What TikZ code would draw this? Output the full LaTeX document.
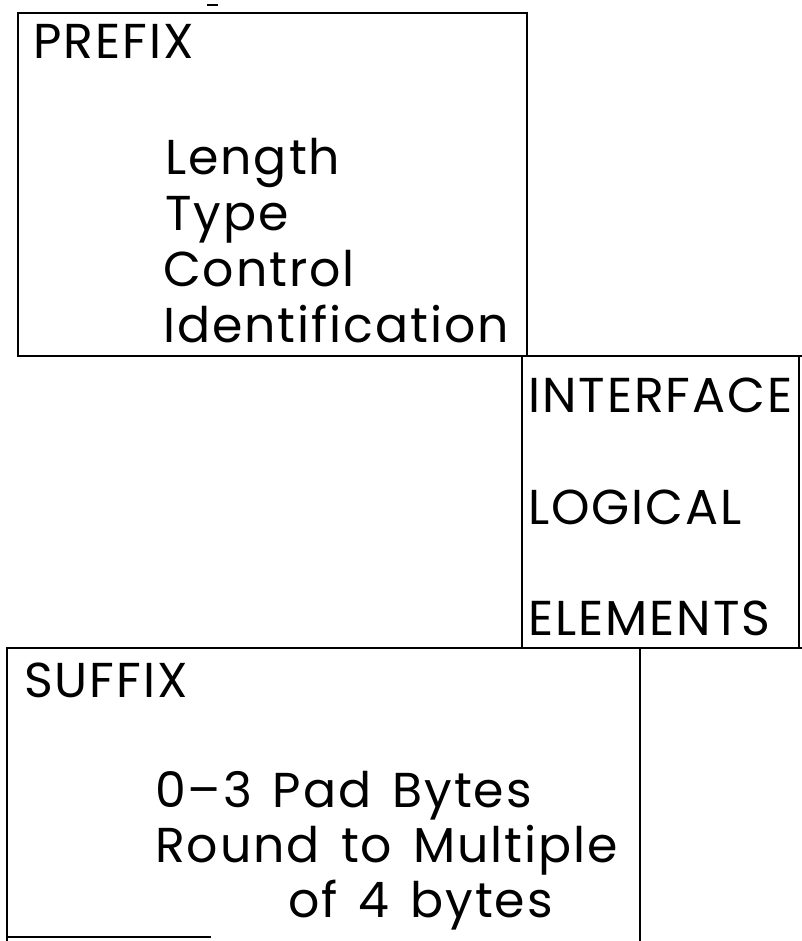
\documentclass[tikz,border=0pt]{standalone}
\usepackage{fontspec}
\setmainfont{Poppins}[LetterSpace=4, WordSpace=1.4]
\usepackage{tikz}
\tikzset{
  frame/.style={line width=2pt, line cap=rect},
  title/.style={anchor=base west, inner sep=0pt,
    font=\fontsize{49}{49}\selectfont},
  entry/.style={anchor=base west, inner sep=0pt,
    font=\fontsize{49}{49}\selectfont}
}

\begin{document}
\begin{tikzpicture}[x=1pt, y=-1pt]
  \useasboundingbox (0,0) rectangle (801,941);
  % frames
  \draw[frame] (18,356) -- (18,13) -- (527,13) -- (527,356);
  \draw[frame] (18,356) -- (801,356);
  \draw[frame] (522,356) -- (522,648);
  \draw[frame] (799,356) -- (799,648);
  \draw[frame] (7,648) -- (801,648);
  \draw[frame] (7,648) -- (7,941);
  \draw[frame] (640,648) -- (640,941);
  \draw[frame] (7,937) -- (210,937);
  \draw[line width=2.5pt] (207,5) -- (218,5);
  % prefix
  \node[title] (prefix) at (33,59) {PREFIX};
  \node[entry] (length) at (165,175) {Length};
  \node[entry] (type) at (165,230) {Type};
  \node[entry] (control) at (163,286) {Control};
  \node[entry] (ident) at (163,342) {Identification};
  % interface
  \node[title] (interface) at (528,412) {INTERFACE};
  \node[title] (logical) at (528,524) {LOGICAL};
  \node[title] (elements) at (528,635) {ELEMENTS};
  % suffix
  \node[title] (suffix) at (24,697) {SUFFIX};
  \node[entry] (pad) at (155,807) {0--3 Pad Bytes};
  \node[entry] (round) at (155,862) {Round to Multiple};
  \node[entry] (bytes) at (288,917) {of 4 bytes};
\end{tikzpicture}
\end{document}
